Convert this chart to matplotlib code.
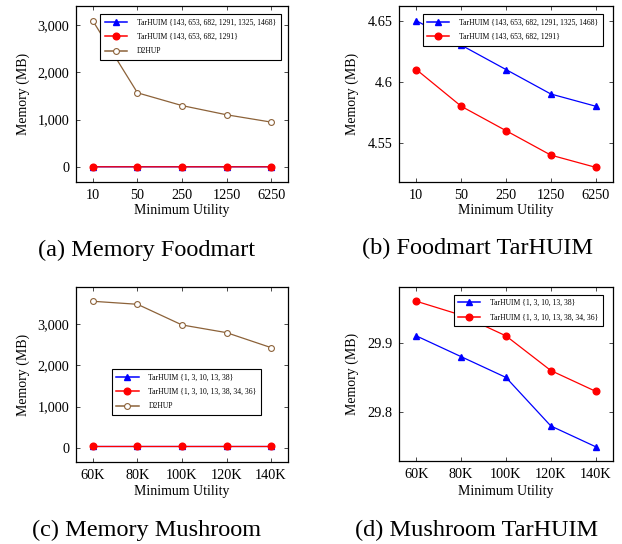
import matplotlib
matplotlib.use('Agg')
import matplotlib.pyplot as plt

plt.rcParams['font.family'] = ['Liberation Serif', 'DejaVu Serif']

# Foodmart
food_x = ['10', '50', '250', '1250', '6250']
food_tar6 = [4.65, 4.63, 4.61, 4.59, 4.58]
food_tar4 = [4.61, 4.58, 4.56, 4.54, 4.53]
food_d2hup = [3078, 1564, 1295, 1101, 947]

# Mushroom
mush_x = ['60K', '80K', '100K', '120K', '140K']
mush_tar5 = [29.91, 29.88, 29.85, 29.78, 29.75]
mush_tar7 = [29.96, 29.94, 29.91, 29.86, 29.83]
mush_d2hup = [3558, 3485, 2983, 2796, 2432]

lab_food6 = 'TarHUIM {143, 653, 682, 1291, 1325, 1468}'
lab_food4 = 'TarHUIM {143, 653, 682, 1291}'
lab_mush5 = 'TarHUIM {1, 3, 10, 13, 38}'
lab_mush7 = 'TarHUIM {1, 3, 10, 13, 38, 34, 36}'

BLUE = '#0000ff'
RED = '#ff0000'
BROWN = '#8c6239'

fig = plt.figure(figsize=(6.22, 5.44), dpi=100)

W, H = 622.0, 544.0


def make_ax(l, t, r, b):
    return fig.add_axes([l / W, 1 - b / H, (r - l) / W, (b - t) / H])


def style(ax, xlabels):
    xs = range(len(xlabels))
    ax.set_xticks(list(xs))
    ax.set_xticklabels(xlabels)
    ax.set_xlim(-0.38, len(xlabels) - 1 + 0.38)
    ax.tick_params(direction='in', top=True, right=True, length=3,
                   width=0.5, labelsize=10.3, pad=5)
    for s in ax.spines.values():
        s.set_linewidth(0.9)
    ax.set_xlabel('Minimum Utility', fontsize=10)
    ax.set_ylabel('Memory (MB)', fontsize=10)


def legend(ax, **kw):
    lg = ax.legend(fontsize=5.5, handlelength=2.9, frameon=True, fancybox=False,
                   edgecolor='black', framealpha=1, borderpad=0.6,
                   labelspacing=0.85, handletextpad=1.3, **kw)
    lg.get_frame().set_linewidth(0.8)
    for h in lg.get_lines():
        h.set_linewidth(1.1)
    return lg


mk_tri = dict(marker='^', markersize=4, lw=0.9)
mk_dot = dict(marker='o', markersize=4.8, lw=0.9)
mk_open = dict(marker='o', markersize=4.2, lw=0.9, mfc='white', mew=0.8)

# (a)
ax = make_ax(76, 6, 288, 182)
x = range(len(food_x))
ax.plot(x, food_tar6, color=BLUE, label=lab_food6, **mk_tri)
ax.plot(x, food_tar4, color=RED, label=lab_food4, **mk_dot)
ax.plot(x, food_d2hup, color=BROWN, label='D2HUP', **mk_open)
style(ax, food_x)
ax.set_ylim(-316, 3394)
ax.set_yticks([0, 1000, 2000, 3000])
ax.set_yticklabels(['0', '1,000', '2,000', '3,000'])
ax.yaxis.set_label_coords(-53 / 212, 0.5)
ax.xaxis.set_label_coords(0.5, -28.7 / 176)
ax.yaxis.label.set_va('center')
ax.xaxis.label.set_va('center')
legend(ax, loc='upper right', bbox_to_anchor=(0.984, 0.977))

# (b)
ax = make_ax(399.3, 6, 612.7, 182)
ax.plot(x, food_tar6, color=BLUE, label=lab_food6, **mk_tri)
ax.plot(x, food_tar4, color=RED, label=lab_food4, **mk_dot)
style(ax, food_x)
ax.set_ylim(4.518, 4.662)
ax.set_yticks([4.55, 4.6, 4.65])
ax.set_yticklabels(['4.55', '4.6', '4.65'])
ax.yaxis.set_label_coords(-46.6 / 213.4, 0.5)
ax.xaxis.set_label_coords(0.5, -28.7 / 176)
ax.yaxis.label.set_va('center')
ax.xaxis.label.set_va('center')
legend(ax, loc='upper right', bbox_to_anchor=(0.973, 0.977))

# (c)
ax = make_ax(76, 287, 288, 462)
x = range(len(mush_x))
ax.plot(x, mush_tar5, color=BLUE, label=lab_mush5, **mk_tri)
ax.plot(x, mush_tar7, color=RED, label=lab_mush7, **mk_dot)
ax.plot(x, mush_d2hup, color=BROWN, label='D2HUP', **mk_open)
style(ax, mush_x)
ax.set_ylim(-347, 3905)
ax.set_yticks([0, 1000, 2000, 3000])
ax.set_yticklabels(['0', '1,000', '2,000', '3,000'])
ax.yaxis.set_label_coords(-53 / 212, 0.5)
ax.xaxis.set_label_coords(0.5, -30 / 175)
ax.yaxis.label.set_va('center')
ax.xaxis.label.set_va('center')
legend(ax, loc='lower left', bbox_to_anchor=(0.151, 0.247))

# (d)
ax = make_ax(399.3, 286.7, 612.7, 461.3)
ax.plot(x, mush_tar5, color=BLUE, label=lab_mush5, **mk_tri)
ax.plot(x, mush_tar7, color=RED, label=lab_mush7, **mk_dot)
style(ax, mush_x)
ax.set_ylim(29.729, 29.981)
ax.set_yticks([29.8, 29.9])
ax.set_yticklabels(['29.8', '29.9'])
ax.yaxis.set_label_coords(-46.6 / 213.4, 0.5)
ax.xaxis.set_label_coords(0.5, -30 / 174.6)
ax.yaxis.label.set_va('center')
ax.xaxis.label.set_va('center')
legend(ax, loc='upper right', bbox_to_anchor=(0.973, 0.977))

# captions
fig.text(146.5 / W, 1 - 250 / H, '(a) Memory Foodmart', fontsize=17.5,
         ha='center', va='center')
fig.text(477 / W, 1 - 248 / H, '(b) Foodmart TarHUIM', fontsize=17.5,
         ha='center', va='center')
fig.text(146.7 / W, 1 - 530 / H, '(c) Memory Mushroom', fontsize=17.5,
         ha='center', va='center')
fig.text(477 / W, 1 - 530 / H, '(d) Mushroom TarHUIM', fontsize=17.5,
         ha='center', va='center')

fig.savefig('out.png', dpi=100)
